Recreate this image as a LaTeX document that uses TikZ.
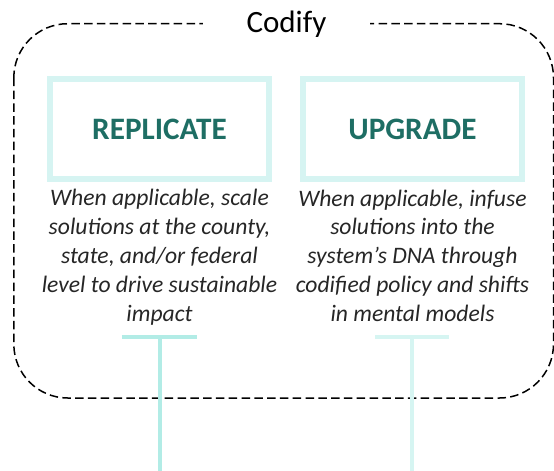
\documentclass[tikz,border=0pt]{standalone}
\usepackage{fontspec}
\setmainfont{Carlito}
\definecolor{boxcyan}{HTML}{D6F4F2}
\definecolor{tealtxt}{HTML}{1E6E64}
\definecolor{bodytxt}{HTML}{262626}
\definecolor{barleft}{HTML}{B2ECE6}
\definecolor{barright}{HTML}{D6F5F2}
\tikzset{
  frame/.style={draw=black, line width=1.5pt, dash pattern=on 8.5pt off 4.3pt, rounded corners=54pt},
  stagebox/.style={draw=boxcyan, line width=6pt, minimum width=219pt, minimum height=100pt,
    text height=21pt, text depth=0pt, inner sep=0pt, font=\fontsize{31.2}{36}\selectfont\bfseries, text=tealtxt},
  desc/.style={align=center, inner sep=0pt, anchor=north, text=bodytxt,
    font=\fontsize{23.6}{28.9}\selectfont\itshape},
  tbar/.style={line width=4pt, line cap=butt},
}
\begin{document}
\begin{tikzpicture}[x=1pt,y=-1pt]
\useasboundingbox (0,0) rectangle (554,471);
\draw[frame] (13.8,23.7) rectangle (553.5,398);
\node[fill=white, inner sep=0pt, minimum width=167pt, minimum height=30pt, font=\fontsize{31}{36}\selectfont, text height=20pt, text depth=0pt] (codify) at (286.5,22) {Codify};
\node[stagebox] (rep) at (159.5,128.5) {REPLICATE};
\node[stagebox] (upg) at (412.5,128.5) {UPGRADE};
\node[desc] (repd) at (159.5,189) {When applicable, scale\\solutions at the county,\\state, and/or federal\\level to drive sustainable\\impact};
\node[desc] (upgd) at (412.5,189.5) {When applicable, infuse\\solutions into the\\system’s DNA through\\codified policy and shifts\\in mental models};
\coordinate (lt) at (159.7,337);
\coordinate (lb) at (159.7,471);
\coordinate (rt) at (412,337);
\coordinate (rb) at (412,471);
\draw[tbar, barleft] ([xshift=-38pt]lt) -- ([xshift=37pt]lt);
\draw[tbar, barleft] (lt) -- (lb);
\draw[tbar, barright] ([xshift=-37pt]rt) -- ([xshift=37pt]rt);
\draw[tbar, barright] (rt) -- (rb);
\end{tikzpicture}
\end{document}
